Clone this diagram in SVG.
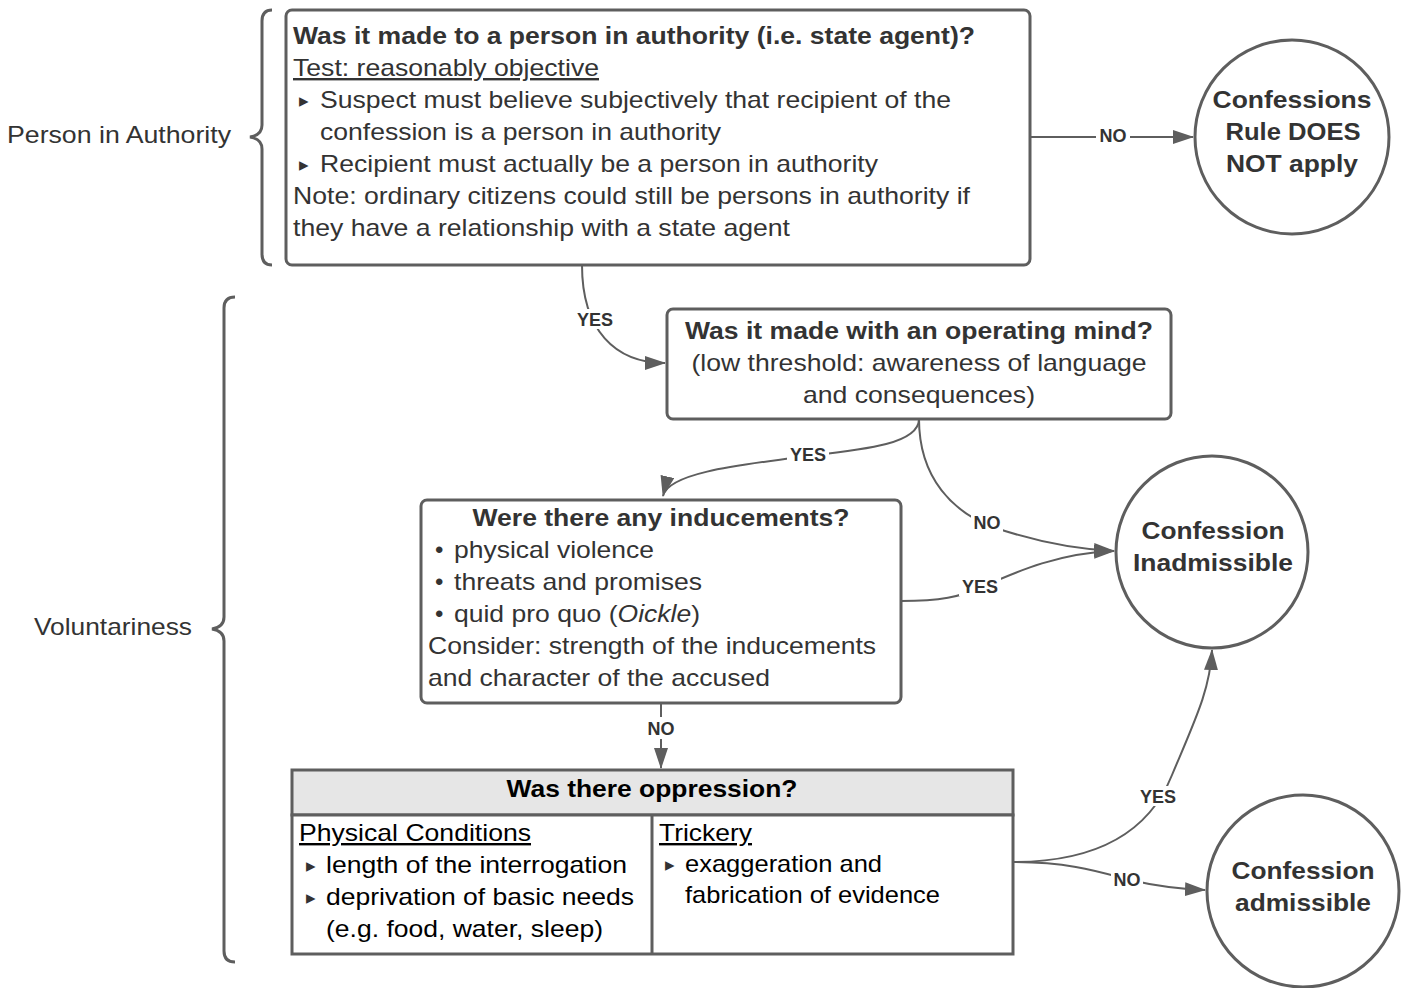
<svg xmlns="http://www.w3.org/2000/svg" width="1401" height="988" viewBox="0 0 1401 988">
<defs>
<style>
.box{fill:#fff;stroke:#5e5e5e;stroke-width:3}
.t{font-family:"Liberation Sans",Arial,sans-serif;font-size:24px;fill:#333}
.b{font-weight:bold}
.blk{fill:#000}
.c{text-anchor:middle}
.bul{font-family:"DejaVu Sans",sans-serif;font-size:19px;fill:#333}
.lbl{font-family:"Liberation Sans",Arial,sans-serif;font-size:18px;font-weight:bold;fill:#333;text-anchor:middle}
.lb{fill:#fff}
.conn{fill:none;stroke:#5e5e5e;stroke-width:2}
.brace{fill:none;stroke:#5e5e5e;stroke-width:3}
</style>
<marker id="arr" markerUnits="userSpaceOnUse" markerWidth="22" markerHeight="14" refX="20" refY="7" orient="auto">
<path d="M0,0 L21,7 L0,14 z" fill="#5e5e5e"/>
</marker>
</defs>
<rect width="1401" height="988" fill="#fff"/>

<g id="brace-authority">
<path class="brace" d="M272,10 Q262,10 262,21 L262,125 Q262,135 250,137 Q262,139 262,149 L262,254 Q262,265 272,265"/>
<text class="t" x="7" y="143" textLength="224" lengthAdjust="spacingAndGlyphs">Person in Authority</text>
</g>
<g id="brace-voluntariness">
<path class="brace" d="M235,297 Q224,297 224,308 L224,617 Q224,627 212,629 Q224,631 224,641 L224,951 Q224,962 235,962"/>
<text class="t" x="34" y="635" textLength="158" lengthAdjust="spacingAndGlyphs">Voluntariness</text>
</g>

<g id="connectors">
<path class="conn" d="M1030,137 L1193,137" marker-end="url(#arr)"/>
<path class="conn" d="M582,265 C582,330 615,363 665,363" marker-end="url(#arr)"/>
<path class="conn" d="M919,419 C919,445 860,450 800,457 C730,466 668,474 663,496" marker-end="url(#arr)"/>
<path class="conn" d="M919,419 C919,480 955,512 990,526 C1030,540 1070,549 1114,551" marker-end="url(#arr)"/>
<path class="conn" d="M901,601 C940,601 960,597 982,587 C1020,570 1060,553 1114,551" marker-end="url(#arr)"/>
<path class="conn" d="M661,703 L661,768" marker-end="url(#arr)"/>
<path class="conn" d="M1013,862 C1100,862 1150,830 1172,775 C1195,720 1210,690 1212,650" marker-end="url(#arr)"/>
<path class="conn" d="M1013,862 C1070,862 1100,872 1130,880 C1160,887 1180,889 1205,890" marker-end="url(#arr)"/>
<rect class="lb" x="1096" y="125" width="34" height="20"/>
<text class="lbl" x="1113" y="142">NO</text>
<rect class="lb" x="574" y="309" width="42" height="20"/>
<text class="lbl" x="595" y="326">YES</text>
<rect class="lb" x="787" y="444" width="42" height="20"/>
<text class="lbl" x="808" y="461">YES</text>
<rect class="lb" x="971" y="512" width="32" height="20"/>
<text class="lbl" x="987" y="529">NO</text>
<rect class="lb" x="959" y="576" width="42" height="20"/>
<text class="lbl" x="980" y="593">YES</text>
<rect class="lb" x="645" y="717" width="32" height="22"/>
<text class="lbl" x="661" y="735">NO</text>
<rect class="lb" x="1137" y="786" width="42" height="20"/>
<text class="lbl" x="1158" y="803">YES</text>
<rect class="lb" x="1111" y="869" width="32" height="20"/>
<text class="lbl" x="1127" y="886">NO</text>
</g>

<g id="node-authority">
<rect class="box" x="286" y="10" width="744" height="255" rx="6"/>
<text class="t b" x="293" y="44" textLength="682" lengthAdjust="spacingAndGlyphs">Was it made to a person in authority (i.e. state agent)?</text>
<text class="t" x="293" y="76" textLength="306" lengthAdjust="spacingAndGlyphs" text-decoration="underline">Test: reasonably objective</text>
<text class="bul" x="299" y="107">▸</text>
<text class="t" x="320" y="108" textLength="631" lengthAdjust="spacingAndGlyphs">Suspect must believe subjectively that recipient of the</text>
<text class="t" x="320" y="140" textLength="401" lengthAdjust="spacingAndGlyphs">confession is a person in authority</text>
<text class="bul" x="299" y="171">▸</text>
<text class="t" x="320" y="172" textLength="558" lengthAdjust="spacingAndGlyphs">Recipient must actually be a person in authority</text>
<text class="t" x="293" y="204" textLength="677" lengthAdjust="spacingAndGlyphs">Note: ordinary citizens could still be persons in authority if</text>
<text class="t" x="293" y="236" textLength="497" lengthAdjust="spacingAndGlyphs">they have a relationship with a state agent</text>
</g>

<g id="node-not-apply">
<circle class="box" cx="1292" cy="137" r="97"/>
<text class="t b c" x="1292" y="108" textLength="159" lengthAdjust="spacingAndGlyphs">Confessions</text>
<text class="t b c" x="1293" y="140" textLength="135" lengthAdjust="spacingAndGlyphs">Rule DOES</text>
<text class="t b c" x="1292" y="172" textLength="132" lengthAdjust="spacingAndGlyphs">NOT apply</text>
</g>

<g id="node-mind">
<rect class="box" x="667" y="309" width="504" height="110" rx="6"/>
<text class="t b c" x="919" y="339" textLength="468" lengthAdjust="spacingAndGlyphs">Was it made with an operating mind?</text>
<text class="t c" x="919" y="371" textLength="455" lengthAdjust="spacingAndGlyphs">(low threshold: awareness of language</text>
<text class="t c" x="919" y="403" textLength="232" lengthAdjust="spacingAndGlyphs">and consequences)</text>
</g>

<g id="node-inducements">
<rect class="box" x="421" y="500" width="480" height="203" rx="6"/>
<text class="t b c" x="661" y="526" textLength="377" lengthAdjust="spacingAndGlyphs">Were there any inducements?</text>
<text class="t" x="435" y="558">•</text>
<text class="t" x="454" y="558" textLength="200" lengthAdjust="spacingAndGlyphs">physical violence</text>
<text class="t" x="435" y="590">•</text>
<text class="t" x="454" y="590" textLength="248" lengthAdjust="spacingAndGlyphs">threats and promises</text>
<text class="t" x="435" y="622">•</text>
<text class="t" x="454" y="622" textLength="246" lengthAdjust="spacingAndGlyphs">quid pro quo (<tspan font-style="italic">Oickle</tspan>)</text>
<text class="t" x="428" y="654" textLength="448" lengthAdjust="spacingAndGlyphs">Consider: strength of the inducements</text>
<text class="t" x="428" y="686" textLength="342" lengthAdjust="spacingAndGlyphs">and character of the accused</text>
</g>

<g id="node-inadmissible">
<circle class="box" cx="1212" cy="552" r="96"/>
<text class="t b c" x="1213" y="539" textLength="143" lengthAdjust="spacingAndGlyphs">Confession</text>
<text class="t b c" x="1213" y="571" textLength="160" lengthAdjust="spacingAndGlyphs">Inadmissible</text>
</g>

<g id="node-oppression">
<rect x="292" y="770" width="721" height="45" fill="#e6e6e6" stroke="#5e5e5e" stroke-width="3"/>
<rect x="292" y="815" width="721" height="139" fill="#fff" stroke="#5e5e5e" stroke-width="3"/>
<line x1="652" y1="815" x2="652" y2="954" stroke="#5e5e5e" stroke-width="3"/>
<text class="t b c blk" x="652" y="797" textLength="291" lengthAdjust="spacingAndGlyphs">Was there oppression?</text>
<text class="t blk" x="299" y="841" textLength="232" lengthAdjust="spacingAndGlyphs" text-decoration="underline">Physical Conditions</text>
<text class="bul blk" x="306" y="872">▸</text>
<text class="t blk" x="326" y="873" textLength="301" lengthAdjust="spacingAndGlyphs">length of the interrogation</text>
<text class="bul blk" x="306" y="904">▸</text>
<text class="t blk" x="326" y="905" textLength="308" lengthAdjust="spacingAndGlyphs">deprivation of basic needs</text>
<text class="t blk" x="326" y="937" textLength="277" lengthAdjust="spacingAndGlyphs">(e.g. food, water, sleep)</text>
<text class="t blk" x="659" y="841" textLength="93" lengthAdjust="spacingAndGlyphs" text-decoration="underline">Trickery</text>
<text class="bul blk" x="665" y="871">▸</text>
<text class="t blk" x="685" y="872" textLength="197" lengthAdjust="spacingAndGlyphs">exaggeration and</text>
<text class="t blk" x="685" y="903" textLength="255" lengthAdjust="spacingAndGlyphs">fabrication of evidence</text>
</g>

<g id="node-admissible">
<circle class="box" cx="1303" cy="891" r="96"/>
<text class="t b c" x="1303" y="879" textLength="143" lengthAdjust="spacingAndGlyphs">Confession</text>
<text class="t b c" x="1303" y="911" textLength="136" lengthAdjust="spacingAndGlyphs">admissible</text>
</g>
</svg>
